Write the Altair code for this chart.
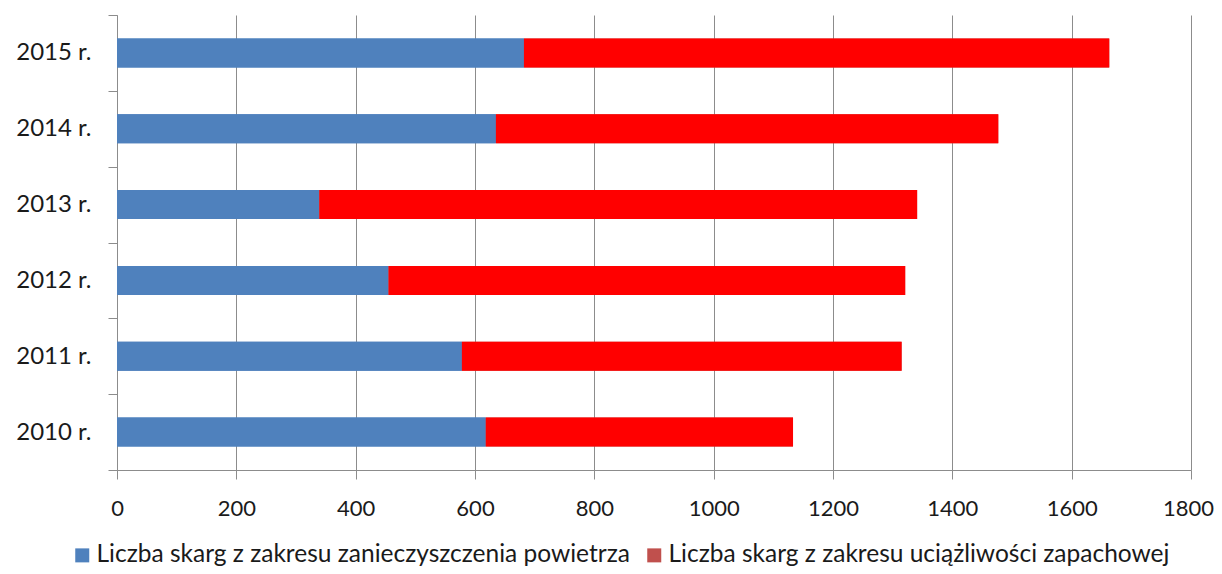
import altair as alt
import pandas as pd

years = ["2015 r.", "2014 r.", "2013 r.", "2012 r.", "2011 r.", "2010 r."]
air = [682, 635, 339, 455, 578, 618]
odour = [981, 842, 1002, 866, 737, 515]
series = [
    "Liczba skarg z zakresu zanieczyszczenia powietrza",
    "Liczba skarg z zakresu uciążliwości zapachowej",
]
x_ticks = [0, 200, 400, 600, 800, 1000, 1200, 1400, 1600, 1800]

rows = []
for yr, a, o in zip(years, air, odour):
    rows.append({"rok": yr, "seria": series[0], "legenda": series[0], "wartosc": a, "kolejnosc": 0})
    rows.append({"rok": yr, "seria": series[1], "legenda": series[1], "wartosc": o, "kolejnosc": 1})
df = pd.DataFrame(rows)

FONT = "Lato"
GRID = "#8c8c8c"

x_enc = alt.X(
    "wartosc:Q",
    stack="zero",
    scale=alt.Scale(domain=[0, 1800], nice=False),
    axis=alt.Axis(
        values=x_ticks, format="d", title=None, grid=True, gridColor=GRID,
        domainColor=GRID, tickColor=GRID, tickSize=9, labelFontSize=22,
        labelPadding=19, labelFont=FONT, labelColor="#1a1a1a", labelFlush=False,
        labelOverlap=False,
        labelOffset={"condition": {"test": "datum.value === 1800", "value": -3}, "value": 0},
    ),
)
y_enc = alt.Y(
    "rok:N",
    sort=years,
    scale=alt.Scale(paddingInner=0, paddingOuter=0),
    axis=alt.Axis(
        title=None, grid=False, tickBand="extent", tickSize=9, tickColor=GRID,
        domainColor=GRID, labelFontSize=24, labelPadding=17, labelFont=FONT,
        labelColor="#1a1a1a",
    ),
)

# legend-carrying layer, drawn underneath and fully covered by the bars
legend_layer = alt.Chart(df).mark_bar(height=alt.RelativeBandSize(0.382)).encode(
    x=x_enc,
    y=y_enc,
    order=alt.Order("kolejnosc:Q"),
    color=alt.Color(
        "legenda:N",
        scale=alt.Scale(domain=series, range=["#4F81BD", "#C0504D"]),
        legend=alt.Legend(
            orient="none", legendX=-47, legendY=528, direction="horizontal",
            title=None, symbolType="square", symbolSize=196,
            symbolStrokeWidth=0, symbolOpacity=1, labelFontSize=24.5,
            labelFont=FONT, labelColor="#1a1a1a", labelLimit=1000,
            columnPadding=12, labelOffset=2,
        ),
    ),
)

bars = alt.Chart(df).mark_bar(height=alt.RelativeBandSize(0.382)).encode(
    x=x_enc,
    y=y_enc,
    fill=alt.Fill(
        "seria:N",
        scale=alt.Scale(domain=series, range=["#4F81BD", "#FF0000"]),
        legend=None,
    ),
    order=alt.Order("kolejnosc:Q"),
)

chart = alt.layer(legend_layer, bars).properties(
    width=1074,
    height=455,
    autosize=alt.AutoSizeParams(type="none"),
    padding={"left": 109, "top": 7, "right": 23, "bottom": 96},
).configure_view(stroke=None)

chart.save("out.html", embed_options={"renderer": "svg", "actions": False})
